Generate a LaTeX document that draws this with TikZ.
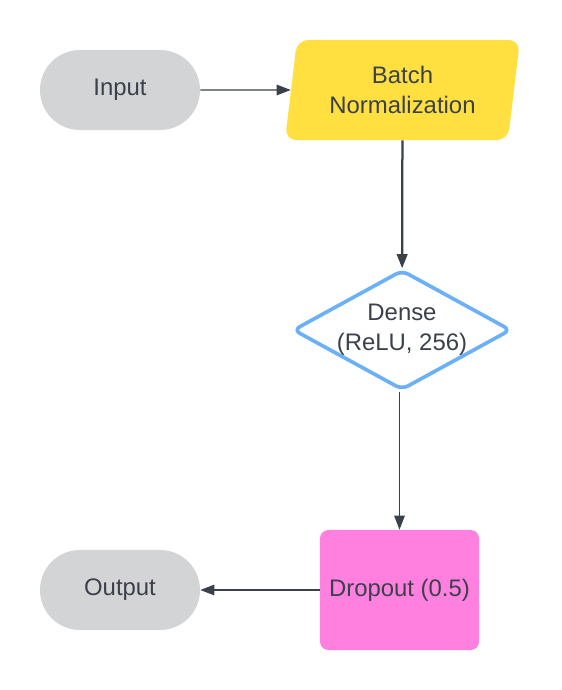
\documentclass[tikz,border=0pt]{standalone}
\usepackage{fontspec}
\setmainfont{Liberation Sans}
\usetikzlibrary{shapes.geometric,arrows.meta}
\definecolor{pillgray}{HTML}{D3D4D6}
\definecolor{bnyellow}{HTML}{FFE040}
\definecolor{droppink}{HTML}{FF80DF}
\definecolor{denseblue}{HTML}{6CB0F8}
\definecolor{inkdark}{HTML}{3A414A}
\begin{document}
\begin{tikzpicture}[x=0.025cm, y=-0.025cm,
    every node/.style={text=inkdark, font=\fontsize{17}{21}\selectfont},
    pill/.style={rectangle, rounded corners=1cm, fill=pillgray,
        minimum width=4cm, minimum height=2cm, inner sep=0pt},
    link/.style={draw=inkdark, line width=0.8pt,
        -{Triangle[length=10pt, width=7.5pt]}}]
        \useasboundingbox (0,0) rectangle (561,690);
        \node (in) at (120,90) [pill] {Input};
        \node (bn) at (402.5,90) [trapezium, trapezium stretches=true,
            trapezium left angle=80, trapezium right angle=100,
            minimum width=5.875cm, minimum height=2.5cm, inner sep=0pt,
            rounded corners=8pt, fill=bnyellow, align=center] {Batch\\Normalization};
        \node (dense) at (402,330) [diamond, minimum width=5.45cm, minimum height=3cm,
            inner sep=0pt, draw=denseblue, line width=2.6pt, fill=white, rounded corners=5pt,
            label={[align=center, text=inkdark]center:Dense\\(ReLU, 256)}] {};
        \node (drop) at (399.5,590) [rectangle, rounded corners=6pt, fill=droppink,
            minimum width=3.975cm, minimum height=3cm, inner sep=0pt] {Dropout (0.5)};
        \node (out) at (120,590) [pill] {Output};
        \draw[link] (in) -- (bn);
        \draw[link, line width=1.6pt] (bn) -- (dense);
        \draw[link] (drop.north |- dense.south) -- (drop.north);
        \draw[link] (drop) -- (out);
    \end{tikzpicture}
\end{document}
